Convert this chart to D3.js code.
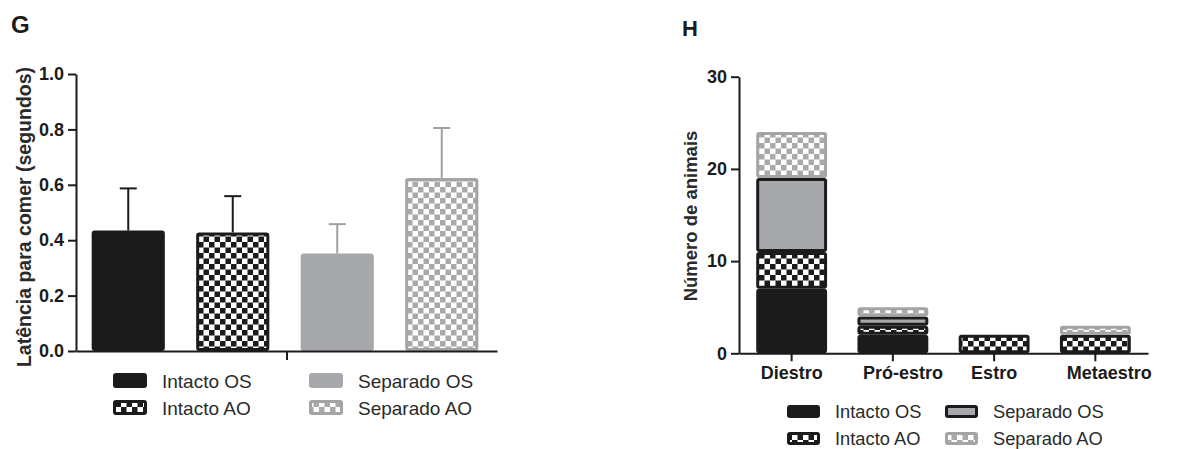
<!DOCTYPE html>
<html>
<head>
<meta charset="utf-8">
<script src="https://cdn.jsdelivr.net/npm/d3@7"></script>
<style>
  html, body { margin: 0; padding: 0; background: #fff; }
  svg { display: block; font-family: "Liberation Sans", Arial, Helvetica, sans-serif; }
</style>
</head>
<body>
<svg id="fig" width="1181" height="449"></svg>
<script>
// ---- Painel G: latência para comer ----
const gruposG = ["Intacto OS", "Intacto AO", "Separado OS", "Separado AO"];
const mediasG = [0.435, 0.428, 0.352, 0.625];
const erroG   = [0.152, 0.131, 0.106, 0.180];
const ticksG  = [0, 0.2, 0.4, 0.6, 0.8, 1.0];

// ---- Painel H: número de animais por fase do ciclo ----
const fasesH      = ["Diestro", "Pró-estro", "Estro", "Metaestro"];
const intactoOS   = [7, 2, 0, 0];
const intactoAO   = [4, 1, 2, 2];
const separadoOS  = [8, 1, 0, 0];
const separadoAO  = [5, 1, 0, 1];
const ticksH      = [0, 10, 20, 30];

const BLACK = "#1b1b1b", GREY = "#a7a8ab", LGREY = "#a9a9a9";

const svg = d3.select("#fig");
const defs = svg.append("defs");

// checkerboard fills
function checker(id, color) {
  const c = 5.5;
  const p = defs.append("pattern").attr("id", id)
    .attr("patternUnits", "userSpaceOnUse").attr("width", 2 * c).attr("height", 2 * c);
  p.append("rect").attr("width", 2 * c).attr("height", 2 * c).attr("fill", "#fff");
  p.append("rect").attr("width", c).attr("height", c).attr("fill", color);
  p.append("rect").attr("x", c).attr("y", c).attr("width", c).attr("height", c).attr("fill", color);
}
checker("chkBlack", BLACK);
checker("chkGrey", LGREY);

const estiloG = {
  "Intacto OS":  { fill: BLACK, stroke: BLACK, err: BLACK },
  "Intacto AO":  { fill: "url(#chkBlack)", stroke: BLACK, err: BLACK },
  "Separado OS": { fill: GREY, stroke: GREY, err: "#a0a0a0" },
  "Separado AO": { fill: "url(#chkGrey)", stroke: "#a4a4a4", err: "#a0a0a0" }
};
const estiloH = {
  "Intacto OS":  { fill: BLACK, stroke: BLACK },
  "Intacto AO":  { fill: "url(#chkBlack)", stroke: BLACK },
  "Separado OS": { fill: GREY, stroke: BLACK },
  "Separado AO": { fill: "url(#chkGrey)", stroke: "#a4a4a4" }
};

const SW = 3; // bar outline width (drawn inside the bar)
function insetRect(sel, x, y, w, h) {
  sel.attr("x", x + SW / 2).attr("y", y + SW / 2)
     .attr("width", Math.max(0, w - SW)).attr("height", Math.max(0, h - SW))
     .attr("rx", 1.5).attr("stroke-width", SW);
}

function styleAxis(g) {
  g.selectAll(".domain").attr("stroke", BLACK).attr("stroke-width", 2);
  g.selectAll(".tick line").attr("stroke", BLACK).attr("stroke-width", 2);
  g.selectAll(".tick text").attr("fill", BLACK)
    .attr("font-family", "'Liberation Sans', Arial, sans-serif")
    .attr("font-weight", "bold").attr("font-size", 18);
}

function legenda(x0, y0, colGap, rowGap, sw, sh, estilo, size) {
  const ordem = [["Intacto OS", "Intacto AO"], ["Separado OS", "Separado AO"]];
  ordem.forEach((col, ci) => col.forEach((nome, ri) => {
    const x = x0 + ci * colGap, y = y0 + ri * rowGap;
    const e = estilo[nome];
    svg.append("rect").call(insetRect, x, y, sw, sh)
      .attr("fill", e.fill).attr("stroke", e.stroke);
    svg.append("text").attr("x", x + sw + 15).attr("y", y + sh)
      .attr("font-size", size).attr("fill", "#2a2a2a").text(nome);
  }));
}

// ================= G =================
{
  const y = d3.scaleLinear().domain([0, 1]).range([351, 74]);
  const x = d3.scaleBand().domain(gruposG).range([76, 494]).paddingInner(0.3).paddingOuter(0.15);
  const grupo = d3.scalePoint().domain(["Latência"]).range([76, 497]).padding(0.5);

  svg.append("text").attr("x", 11).attr("y", 33).attr("font-weight", "bold")
    .attr("font-size", 24).attr("fill", BLACK).text("G");

  // error bars (upper only)
  gruposG.forEach((g, i) => {
    const cx = x(g) + x.bandwidth() / 2;
    const e = estiloG[g];
    svg.append("line").attr("x1", cx).attr("x2", cx)
      .attr("y1", y(mediasG[i])).attr("y2", y(mediasG[i] + erroG[i]))
      .attr("stroke", e.err).attr("stroke-width", 2);
    svg.append("line").attr("x1", cx - 8.5).attr("x2", cx + 8.5)
      .attr("y1", y(mediasG[i] + erroG[i])).attr("y2", y(mediasG[i] + erroG[i]))
      .attr("stroke", e.err).attr("stroke-width", 2);
  });

  svg.append("g").selectAll("rect").data(gruposG).join("rect")
    .each(function (g, i) {
      d3.select(this).call(insetRect, x(g), y(mediasG[i]), x.bandwidth(), y(0) - y(mediasG[i]))
        .attr("fill", estiloG[g].fill).attr("stroke", estiloG[g].stroke);
    });

  const ay = svg.append("g").attr("transform", "translate(76,0)")
    .call(d3.axisLeft(y).tickValues(ticksG).tickFormat(d3.format(".1f")).tickSize(8).tickPadding(4).tickSizeOuter(0));
  styleAxis(ay);
  const ax = svg.append("g").attr("transform", `translate(0,${y(0)})`)
    .call(d3.axisBottom(grupo).tickFormat("").tickSize(9).tickSizeOuter(0));
  styleAxis(ax);

  svg.append("text").attr("transform", `translate(31,217) rotate(-90)`)
    .attr("text-anchor", "middle").attr("font-weight", "bold").attr("font-size", 19.5)
    .attr("fill", "#2a2a2a").text("Latência para comer (segundos)");

  legenda(113, 373, 196, 27, 34, 15, estiloG, 19);
}

// ================= H =================
{
  const y = d3.scaleLinear().domain([0, 30]).range([353.3, 76.7]);
  const x = d3.scaleBand().domain(fasesH).range([739, 1148]).paddingInner(0.3).paddingOuter(0.17);

  svg.append("text").attr("x", 682).attr("y", 36).attr("font-weight", "bold")
    .attr("font-size", 22).attr("fill", BLACK).text("H");

  const linhas = fasesH.map((f, i) => ({
    fase: f,
    "Intacto OS": intactoOS[i], "Intacto AO": intactoAO[i],
    "Separado OS": separadoOS[i], "Separado AO": separadoAO[i]
  }));
  const series = d3.stack().keys(gruposG)(linhas);

  svg.append("g").selectAll("g").data(series).join("g")
    .each(function (s) {
      const e = estiloH[s.key];
      d3.select(this).selectAll("rect").data(s.filter(d => d[1] > d[0])).join("rect")
        .each(function (d) {
          d3.select(this).call(insetRect, x(d.data.fase), y(d[1]), x.bandwidth(), y(d[0]) - y(d[1]))
            .attr("fill", e.fill).attr("stroke", e.stroke);
        });
    });

  const ay = svg.append("g").attr("transform", "translate(739,0)")
    .call(d3.axisLeft(y).tickValues(ticksH).tickSize(8).tickPadding(4).tickSizeOuter(0));
  styleAxis(ay);
  const nudge = [0, 10, 0, 14];
  const ax = svg.append("g").attr("transform", `translate(0,${y(0)})`)
    .call(d3.axisBottom(x).tickSize(8).tickPadding(5).tickSizeOuter(0));
  styleAxis(ax);
  ax.selectAll(".tick text").attr("dx", (d, i) => nudge[i]);

  svg.append("text").attr("transform", `translate(697,216) rotate(-90)`)
    .attr("text-anchor", "middle").attr("font-weight", "bold").attr("font-size", 18.5)
    .attr("fill", "#2a2a2a").text("Número de animais");

  legenda(787, 405, 158, 27, 33, 13, estiloH, 18.3);
}
</script>
</body>
</html>
